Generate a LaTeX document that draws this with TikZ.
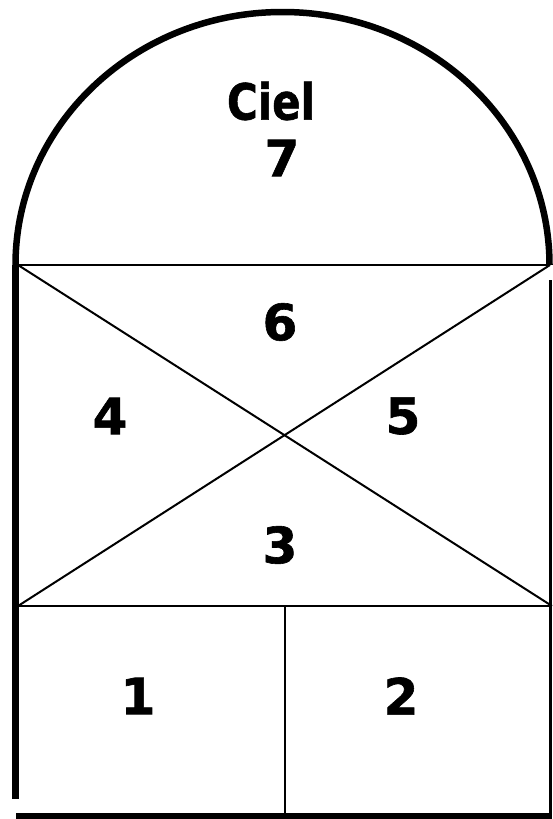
\documentclass[tikz,border=0pt]{standalone}
\usepackage{fontspec}
\usepackage{graphicx}
\setmainfont{DejaVu Sans}[BoldFeatures={FakeBold=1.2}]
\usetikzlibrary{positioning}
\tikzset{
  wall/.style={line width=6.5pt},
  edge/.style={line width=2pt},
  zone/.style={font=\fontsize{50}{56}\selectfont\bfseries, inner sep=0pt}
}
\begin{document}
\begin{tikzpicture}[x=1pt,y=-1pt]
  \useasboundingbox (0,0) rectangle (552,819);
  % corners of the facade
  \coordinate (tl) at (18,265);
  \coordinate (tr) at (550,265);
  \coordinate (ml) at (18,606);
  \coordinate (mr) at (552,606);
  \coordinate (mb) at (285,606);
  \coordinate (bb) at (285,819);
  % vault and walls
  \draw[wall] (15.5,265) arc[start angle=180,end angle=360,x radius=267,y radius=253];
  \draw[wall] (15.5,265) -- (15.5,799);
  \draw[wall] (16,816.5) -- (552,816.5);
  \draw[line width=3pt] (550.5,280) -- (550.5,819);
  % inner partition
  \draw[edge] (tl) -- (tr);
  \draw[edge] (tl) -- (mr);
  \draw[edge] (tr) -- (ml);
  \draw[edge] (ml) -- (mr);
  \draw[edge] (mb) -- (bb);
  % labels
  \node[zone] (ciel) at (271,101) {\scalebox{0.84}[1]{Ciel}};
  \node[zone] (z7) at (282,158) {7};
  \node[zone] (z6) at (280,322) {6};
  \node[zone] (z4) at (110,416) {4};
  \node[zone] (z5) at (403,416) {5};
  \node[zone] (z3) at (280,545) {3};
  \node[zone] (z1) at (138,696) {1};
  \node[zone] (z2) at (401,696) {2};
\end{tikzpicture}
\end{document}
